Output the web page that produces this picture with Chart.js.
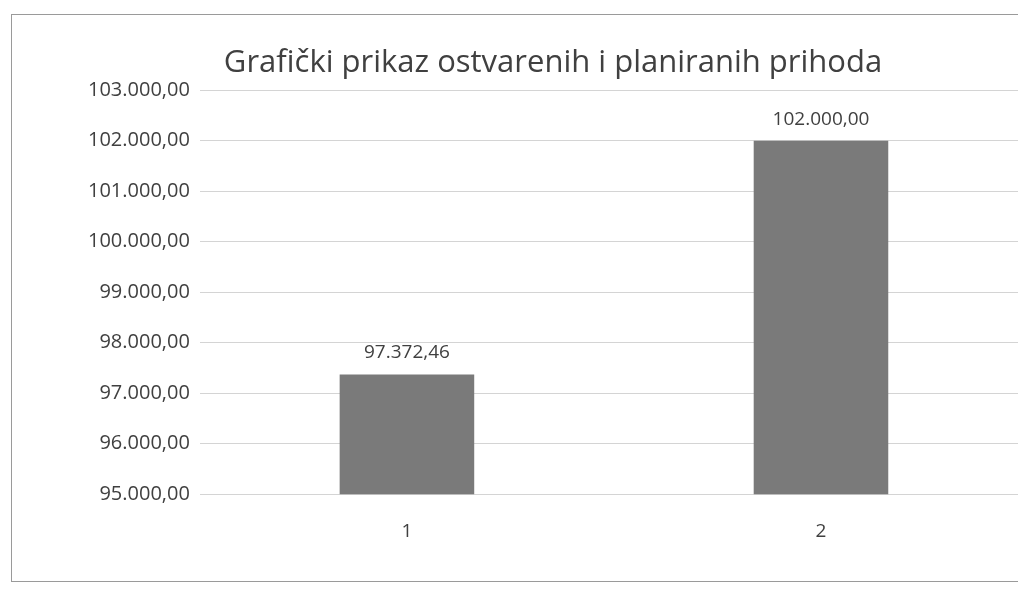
<!DOCTYPE html>
<html>
<head>
<meta charset="utf-8">
<script src="https://cdn.jsdelivr.net/npm/chart.js@4"></script>
<style>
  html, body { margin: 0; padding: 0; background: #fff; overflow: hidden; width: 1018px; height: 600px; }
  #box { position: absolute; left: 11px; top: 14px; width: 1030px; height: 566px; border: 1px solid #9a9a9a; }
  #wrap { position: absolute; left: 0; top: 0; width: 1016px; height: 566px; }
</style>
</head>
<body>
<div id="box"><div id="wrap"><canvas id="myChart"></canvas></div></div>
<script>
var categories = ['1', '2'];
var values = [97372.46, 102000.00];
var yMin = 95000;
var yMax = 103000;
var yStep = 1000;
var titleText = 'Grafički prikaz ostvarenih i planiranih prihoda';

// 97372.46 -> "97.372,46"
function fmt(v){
    var parts = v.toFixed(2).split('.');
    var intPart = parts[0].replace(/\B(?=(\d{3})+(?!\d))/g, '.');
    return intPart + ',' + parts[1];
}

var FONT = "'Open Sans', 'Liberation Sans', sans-serif";

var valueLabels = {
  id: 'valueLabels',
  afterDatasetsDraw: function(chart){
    var ctx = chart.ctx;
    var meta = chart.getDatasetMeta(0);
    ctx.save();
    ctx.font = '19px ' + FONT;
    ctx.fillStyle = '#404040';
    ctx.textAlign = 'center';
    ctx.textBaseline = 'bottom';
    meta.data.forEach(function(bar, i){
      ctx.fillText(fmt(values[i]), bar.x, bar.y - 12);
    });
    ctx.restore();
  }
};

var ctx = document.getElementById("myChart");
var myChart = new Chart(ctx, {
  type: 'bar',
  data: {
    labels: categories,
    datasets: [
      {
        data: values,
        backgroundColor: '#7a7a7a',
        barPercentage: 0.325,
        categoryPercentage: 1
      }
    ]
  },
  options: {
    responsive: true,
    maintainAspectRatio: false,
    animation: false,
    layout: { padding: { left: 66, right: 0, top: 0, bottom: 20 } },
    plugins: {
      legend: { display: false },
      tooltip: { enabled: false },
      title: {
        display: true,
        text: titleText,
        color: '#404040',
        font: { family: FONT, size: 31, weight: 'normal' },
        padding: { top: 30, bottom: 8 }
      }
    },
    scales: {
      x: {
        grid: { display: false },
        border: { display: false },
        ticks: { color: '#404040', font: { family: FONT, size: 19 }, padding: 18 }
      },
      y: {
        min: yMin,
        max: yMax,
        ticks: {
          stepSize: yStep,
          color: '#404040',
          font: { family: FONT, size: 20 },
          padding: 10,
          callback: function(v){ return fmt(v); }
        },
        grid: { color: '#d4d4d4', drawTicks: false },
        border: { display: false }
      }
    }
  },
  plugins: [valueLabels]
});
</script>
</body>
</html>
